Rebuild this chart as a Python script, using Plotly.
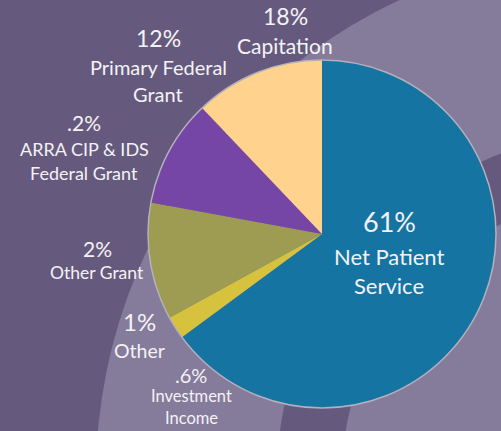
import plotly.graph_objects as go

# ---- data (clockwise from 12 o'clock) ----
slice_names = ["Net Patient Service", "Other", "Other Grant",
               "ARRA CIP & IDS Federal Grant", "Primary Federal Grant"]
slice_values = [64.9, 2.1, 10.9, 10.0, 12.1]
slice_colors = ["#1574a2", "#d6c23c", "#9e9c52", "#7646a6", "#ffd38e"]

# label texts (percent line + name lines)
label_pcts = ["61%", "18%", "12%", ".2%", "2%", "1%", ".6%"]
label_names = [["Net Patient", "Service"], ["Capitation"], ["Primary Federal", "Grant"],
               ["ARRA CIP & IDS", "Federal Grant"], ["Other Grant"], ["Other"],
               ["Investment", "Income"]]

W, H = 501, 431
DARK = "#655a7d"
LIGHT = "#857b9b"
FONT = "Lato"

fig = go.Figure()
fig.add_trace(go.Pie(
    labels=slice_names, values=slice_values, sort=False,
    direction="clockwise", rotation=0,
    marker=dict(colors=slice_colors, line=dict(width=0)),
    textinfo="none", hoverinfo="label+percent",
    domain=dict(x=[(322 - 174) / W, (322 + 174) / W],
                y=[1 - (234 + 174) / H, 1 - (234 - 174) / H]),
))

def circ(cx, cy, r, **kw):
    return dict(type="circle", xref="paper", yref="paper",
                x0=(cx - r) / W, x1=(cx + r) / W,
                y0=1 - (cy + r) / H, y1=1 - (cy - r) / H, **kw)

shapes = [
    circ(621, 476, 525, fillcolor=LIGHT, line=dict(width=0), layer="below"),
    circ(621, 476, 344, fillcolor=DARK, line=dict(width=0), layer="below"),
    circ(621, 476, 279, fillcolor=LIGHT, line=dict(width=0), layer="below"),
    circ(322, 234, 174, fillcolor="rgba(0,0,0,0)", line=dict(color="#b4b0bc", width=1.5), layer="above"),
]

# annotation layout: (center x, y of pct line, y of name lines...), font sizes
label_pos = [
    (389, 222, [256, 285], 27, 22),
    (285, 16, [45], 23, 21),
    (158, 38, [67, 94], 23, 20),
    (84, 123, [149, 173], 21, 18),
    (97, 248, [272], 21, 17.5),
    (139, 321, [350], 24, 19.5),
    (191, 375, [396, 418], 20, 16.5),
]
ann = []
for pct, names, (x, ypct, ynames, fs1, fs2) in zip(label_pcts, label_names, label_pos):
    ann.append(dict(text=pct, x=x / W, y=1 - ypct / H, xref="paper", yref="paper",
                    showarrow=False, xanchor="center", yanchor="middle",
                    font=dict(family=FONT, size=fs1, color="#f4f2f6")))
    for nm, yy in zip(names, ynames):
        ann.append(dict(text=nm, x=x / W, y=1 - yy / H, xref="paper", yref="paper",
                        showarrow=False, xanchor="center", yanchor="middle",
                        font=dict(family=FONT, size=fs2, color="#f4f2f6")))

fig.update_layout(
    width=W, height=H, margin=dict(l=0, r=0, t=0, b=0),
    paper_bgcolor=DARK, plot_bgcolor=DARK, showlegend=False,
    shapes=shapes, annotations=ann,
)
fig.write_html("out.html", config={"displayModeBar": False},
               post_script="document.body.style.margin='0';document.body.style.overflow='hidden';")
